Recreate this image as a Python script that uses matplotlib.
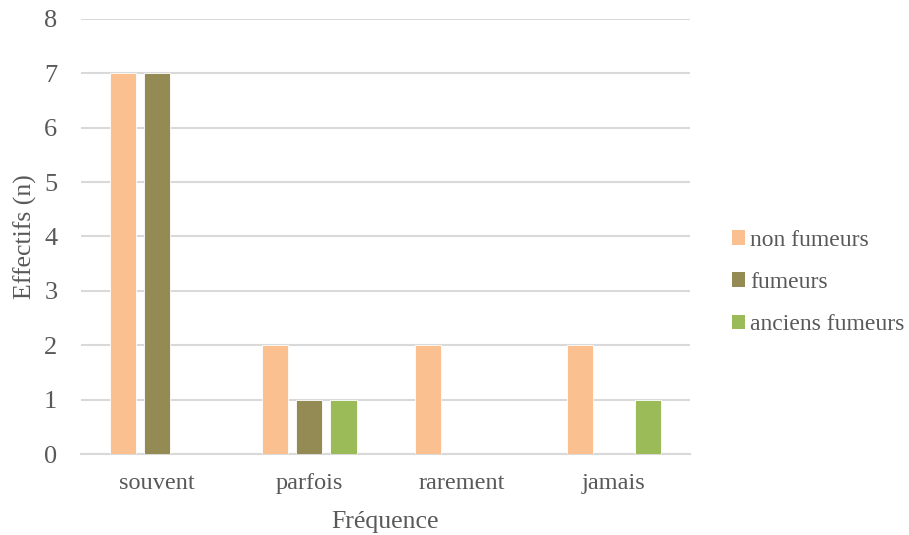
import numpy as np
import matplotlib.pyplot as plt
from matplotlib.patches import Patch

# Data
categories = ["souvent", "parfois", "rarement", "jamais"]
series_names = ["non fumeurs", "fumeurs", "anciens fumeurs"]
non_fumeurs = [7, 2, 2, 2]
fumeurs = [7, 1, 0, 0]
anciens_fumeurs = [0, 1, 0, 1]
colors = ["#FAC090", "#948A54", "#9BBB59"]

plt.rcParams['font.family'] = ['Liberation Serif', 'DejaVu Serif']
text_color = "#595959"
grid_color = "#D9D9D9"

fig = plt.figure(figsize=(9.09, 5.35), dpi=100)
ax = fig.add_axes([0.0891, 0.1514, 0.6700, 0.8131])

x = np.arange(len(categories))
width = 0.171
step = 0.224
values = [non_fumeurs, fumeurs, anciens_fumeurs]
for i, (vals, col) in enumerate(zip(values, colors)):
    ax.bar(x + (i - 1) * step, vals, width, color=col, edgecolor="white",
           linewidth=0.6, zorder=3)

ax.set_xlim(-0.5, len(categories) - 0.5)
ax.set_ylim(0, 8)
ax.set_yticks(range(0, 9))
ax.set_xticks(x)
ax.set_xticklabels(categories)
ax.yaxis.grid(True, color=grid_color, linewidth=1.5, zorder=0)
ax.set_axisbelow(True)

for side in ["left", "right", "top"]:
    ax.spines[side].set_visible(False)
ax.spines["bottom"].set_color(grid_color)
ax.spines["bottom"].set_linewidth(1.5)

ax.tick_params(axis="y", length=0, labelsize=19, labelcolor=text_color, pad=17)
ax.tick_params(axis="x", length=0, labelsize=17.5, labelcolor=text_color, pad=14)

ax.set_xlabel("Fréquence", fontsize=18.5, color=text_color, labelpad=12)
ax.set_ylabel("Effectifs (n)", fontsize=18.5, color=text_color, labelpad=5)

handles = [Patch(facecolor=c, edgecolor="none") for c in colors]
fig.legend(handles, series_names, loc="center left",
           bbox_to_anchor=(0.805, 0.472), frameon=False, fontsize=17,
           labelcolor=text_color, handlelength=0.57, handleheight=0.57,
           handletextpad=0.22, labelspacing=0.9, borderaxespad=0,
           borderpad=0)

fig.savefig("out.png", dpi=100)
